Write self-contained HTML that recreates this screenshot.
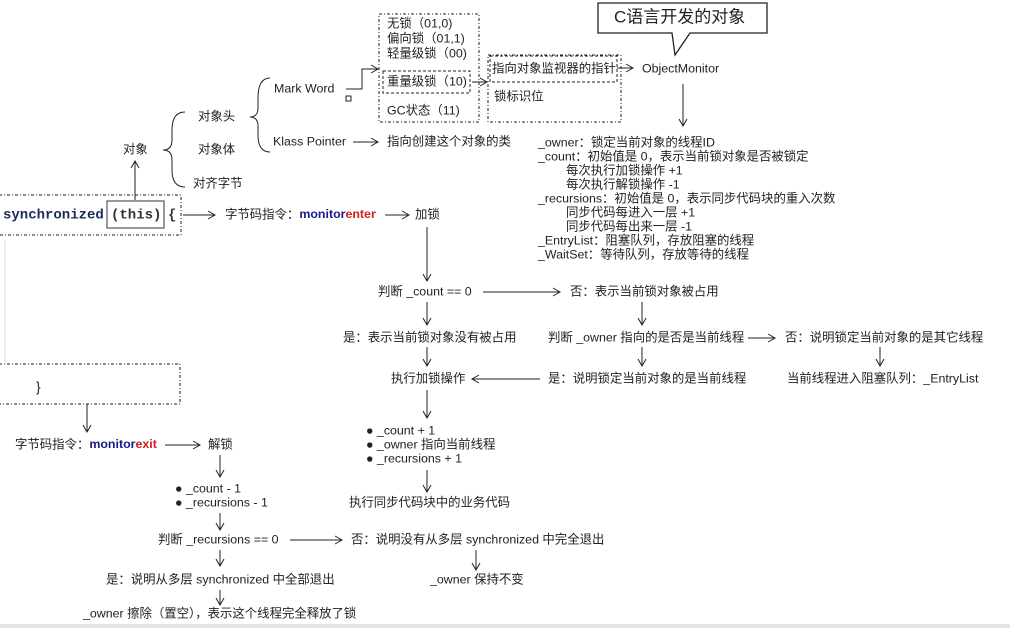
<!DOCTYPE html>
<html><head><meta charset="utf-8"><style>
body{margin:0;background:#fff;width:1010px;height:628px;overflow:hidden}
svg text{font-family:"Liberation Sans","Noto Sans CJK SC",sans-serif;font-size:12.4px;fill:#222;dominant-baseline:middle}
</style></head><body>
<svg width="1010" height="628" viewBox="0 0 1010 628">
<defs><marker id="a" markerWidth="10" markerHeight="10" refX="8" refY="5" orient="auto" markerUnits="userSpaceOnUse"><path d="M1,1 L8,5 L1,9" fill="none" stroke="#222" stroke-width="1"/></marker></defs>
<g fill="none" stroke="#222" stroke-width="1">
<path d="M185,112 Q172,112 172,130 L172,140 Q172,150 163,150 Q172,150 172,160 L172,170 Q172,187 185,187"/>
<path d="M270,78 Q258,78 258,98 L258,108 Q258,117 250,117 Q258,117 258,126 L258,135 Q258,152 270,152"/>
<rect x="379" y="14" width="100" height="108" stroke-dasharray="3,2,1,2"/>
<rect x="383" y="71" width="87" height="22" stroke-dasharray="3,2"/>
<rect x="488" y="55" width="133" height="67" stroke-dasharray="3,2,1,2"/>
<rect x="490" y="56" width="127" height="26" stroke-dasharray="3,2"/>
<rect x="-1" y="195" width="182" height="40" stroke-dasharray="3,2,1,2"/>
<rect x="107" y="201" width="57" height="27" stroke="#333"/>
<rect x="-1" y="364" width="181" height="40" stroke-dasharray="3,2,1,2"/>
<line x1="5" y1="240" x2="5" y2="364" stroke="#ddd"/>
<rect x="346" y="96" width="5" height="5"/>
<path d="M598,3 H767 V33 H690 L675,55 L672,33 H598 Z" stroke-width="1.3"/>
<path d="M346,89 H362 V69 H378" marker-end="url(#a)"/>
<path d="M353,142 H378" marker-end="url(#a)"/>
<path d="M472,82 H487" marker-end="url(#a)"/>
<path d="M617,68 H633" marker-end="url(#a)"/>
<path d="M683,84 V126" marker-end="url(#a)"/>
<path d="M135,200 V161" marker-end="url(#a)"/>
<path d="M183,215 H215" marker-end="url(#a)"/>
<path d="M385,215 H409" marker-end="url(#a)"/>
<path d="M427,227 V281" marker-end="url(#a)"/>
<path d="M483,292 H560" marker-end="url(#a)"/>
<path d="M427,302 V325" marker-end="url(#a)"/>
<path d="M642,302 V325" marker-end="url(#a)"/>
<path d="M748,338 H775" marker-end="url(#a)"/>
<path d="M880,347 V366" marker-end="url(#a)"/>
<path d="M642,347 V366" marker-end="url(#a)"/>
<path d="M540,379 H472" marker-end="url(#a)"/>
<path d="M427,347 V366" marker-end="url(#a)"/>
<path d="M427,390 V418" marker-end="url(#a)"/>
<path d="M427,470 V492" marker-end="url(#a)"/>
<path d="M87,404 V432" marker-end="url(#a)"/>
<path d="M165,445 H200" marker-end="url(#a)"/>
<path d="M220,455 V477" marker-end="url(#a)"/>
<path d="M220,513 V530" marker-end="url(#a)"/>
<path d="M290,540 H342" marker-end="url(#a)"/>
<path d="M220,550 V566" marker-end="url(#a)"/>
<path d="M476,550 V570" marker-end="url(#a)"/>
<path d="M220,590 V605" marker-end="url(#a)"/>
</g>
<rect x="0" y="624" width="1010" height="4" fill="#e4e4e4"/>
<text x="387" y="24">无锁（01,0)</text>
<text x="387" y="39">偏向锁（01,1)</text>
<text x="387" y="54">轻量级锁（00)</text>
<text x="387" y="82">重量级锁（10)</text>
<text x="387" y="111">GC状态（11)</text>
<text x="274" y="89">Mark Word</text>
<text x="273" y="142">Klass Pointer</text>
<text x="387" y="142">指向创建这个对象的类</text>
<text x="198" y="117">对象头</text>
<text x="198" y="150">对象体</text>
<text x="193" y="184">对齐字节</text>
<text x="123" y="150">对象</text>
<text x="492" y="69">指向对象监视器的指针</text>
<text x="494" y="97">锁标识位</text>
<text x="642" y="69">ObjectMonitor</text>
<text x="614" y="18" style="font-size:17px">C语言开发的对象</text>
<text x="538" y="143">_owner：锁定当前对象的线程ID</text>
<text x="538" y="157">_count：初始值是 0，表示当前锁对象是否被锁定</text>
<text x="566" y="171">每次执行加锁操作 +1</text>
<text x="566" y="185">每次执行解锁操作  -1</text>
<text x="538" y="199">_recursions：初始值是 0，表示同步代码块的重入次数</text>
<text x="566" y="213">同步代码每进入一层 +1</text>
<text x="566" y="227">同步代码每出来一层 -1</text>
<text x="538" y="241">_EntryList：阻塞队列，存放阻塞的线程</text>
<text x="538" y="255">_WaitSet：等待队列，存放等待的线程</text>
<text x="3" y="215" style="font-family:'Liberation Mono',monospace;font-size:14px;font-weight:bold;fill:#1a2a5a">synchronized</text>
<text x="111" y="215" style="font-family:'Liberation Mono',monospace;font-size:14px;font-weight:bold;fill:#333">(this)</text>
<text x="168" y="215" style="font-family:'Liberation Mono',monospace;font-size:14px;font-weight:bold;fill:#333">{</text>
<text x="225" y="215">字节码指令：<tspan style="font-weight:bold;fill:#1a1a8a">monitor</tspan><tspan style="font-weight:bold;fill:#d02020">enter</tspan></text>
<text x="415" y="215">加锁</text>
<text x="378" y="292">判断 _count == 0</text>
<text x="570" y="292">否：表示当前锁对象被占用</text>
<text x="343" y="338">是：表示当前锁对象没有被占用</text>
<text x="548" y="338">判断 _owner 指向的是否是当前线程</text>
<text x="785" y="338">否：说明锁定当前对象的是其它线程</text>
<text x="787" y="379">当前线程进入阻塞队列：_EntryList</text>
<text x="548" y="379">是：说明锁定当前对象的是当前线程</text>
<text x="391" y="379">执行加锁操作</text>
<text x="366" y="431">● _count + 1</text>
<text x="366" y="445">● _owner 指向当前线程</text>
<text x="366" y="459">● _recursions + 1</text>
<text x="349" y="503">执行同步代码块中的业务代码</text>
<text x="36" y="388" style="font-size:14px">}</text>
<text x="15" y="445">字节码指令：<tspan style="font-weight:bold;fill:#1a1a8a">monitor</tspan><tspan style="font-weight:bold;fill:#d02020">exit</tspan></text>
<text x="208" y="445">解锁</text>
<text x="175" y="489">● _count - 1</text>
<text x="175" y="503">● _recursions - 1</text>
<text x="158" y="540">判断 _recursions == 0</text>
<text x="351" y="540">否：说明没有从多层 synchronized 中完全退出</text>
<text x="106" y="580">是：说明从多层 synchronized 中全部退出</text>
<text x="430" y="580">_owner 保持不变</text>
<text x="83" y="614">_owner 擦除（置空），表示这个线程完全释放了锁</text>
</svg>
</body></html>
